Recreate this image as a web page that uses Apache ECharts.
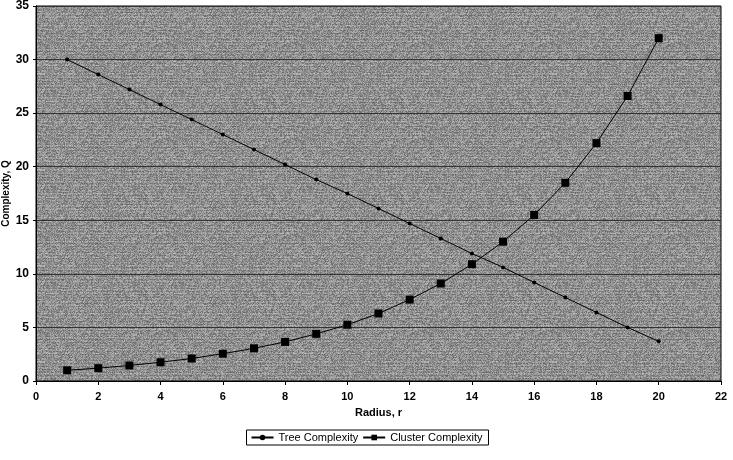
<!DOCTYPE html>
<html>
<head>
<meta charset="utf-8">
<script src="https://cdn.jsdelivr.net/npm/echarts@6/dist/echarts.min.js"></script>
<style>
  html, body { margin: 0; padding: 0; background: #fff; }
  #chart { width: 733px; height: 460px; }
</style>
</head>
<body>
<div id="chart"></div>
<script>
// radius values r = 1..20
var radius = [1, 2, 3, 4, 5, 6, 7, 8, 9, 10, 11, 12, 13, 14, 15, 16, 17, 18, 19, 20];
var treeComplexity = [30, 28.6, 27.2, 25.8, 24.4, 23.0, 21.6, 20.2, 18.8, 17.5,
                      16.1, 14.7, 13.3, 11.9, 10.6, 9.2, 7.8, 6.4, 5.0, 3.7];
var clusterComplexity = [1.0, 1.2, 1.45, 1.75, 2.1, 2.55, 3.05, 3.65, 4.4, 5.25,
                         6.3, 7.6, 9.1, 10.9, 13.0, 15.5, 18.5, 22.2, 26.6, 32.0];

function pairs(xs, ys) {
  return xs.map(function (x, i) { return [x, ys[i]]; });
}

// grainy grey fill for the plot area (scanned look), fixed hash so it's repeatable
function makeTexture() {
  var w = 128, h = 96;
  var c = document.createElement('canvas');
  c.width = w; c.height = h;
  var ctx = c.getContext('2d');
  var img = ctx.createImageData(w, h);
  var seed = 12345;
  function next() {
    seed = (seed * 1103515245 + 12345) & 0x7fffffff;
    return seed / 0x7fffffff;
  }
  for (var y = 0; y < h; y++) {
    var rowShift = (y % 3 === 0) ? -14 : ((y % 4 === 1) ? 12 : 0);
    for (var x = 0; x < w; x++) {
      var v = 146 + rowShift + (next() - 0.5) * 70;
      v = Math.max(60, Math.min(215, v));
      var i = (y * w + x) * 4;
      img.data[i] = img.data[i + 1] = img.data[i + 2] = v;
      img.data[i + 3] = 255;
    }
  }
  ctx.putImageData(img, 0, 0);
  return c;
}

var chart = echarts.init(document.getElementById('chart'));
var font = 'Liberation Sans, Arial, sans-serif';

chart.setOption({
  animation: false,
  textStyle: { fontFamily: font },
  grid: {
    left: 36, right: 12, top: 6, bottom: 79,
    outerBoundsMode: 'none',
    containLabel: false,
    show: true,
    backgroundColor: { image: makeTexture(), repeat: 'repeat' },
    borderColor: '#000',
    borderWidth: 1
  },
  legend: {
    top: 430,
    left: 'center',
    itemWidth: 22,
    itemHeight: 7,
    itemGap: 4,
    borderColor: '#000',
    borderWidth: 1,
    borderRadius: 0,
    padding: [2, 6, 2, 4],
    textStyle: { fontSize: 11, color: '#000', fontFamily: font },
    data: ['Tree Complexity', 'Cluster Complexity']
  },
  xAxis: {
    type: 'value',
    min: 0, max: 22, interval: 2,
    name: 'Radius, r',
    nameLocation: 'middle',
    nameGap: 26,
    nameMoveOverlap: false,
    nameTextStyle: { fontWeight: 'bold', fontSize: 11, color: '#000' },
    axisLine: { lineStyle: { color: '#000' } },
    axisTick: { show: true, length: 4, lineStyle: { color: '#000' } },
    axisLabel: { fontWeight: 'bold', fontSize: 11, color: '#000', margin: 10 },
    splitLine: { show: false }
  },
  yAxis: {
    type: 'value',
    min: 0, max: 35, interval: 5,
    name: 'Complexity, Q',
    nameLocation: 'middle',
    nameGap: 25,
    nameMoveOverlap: false,
    nameTextStyle: { fontWeight: 'bold', fontSize: 10, color: '#000' },
    axisLine: { show: true, lineStyle: { color: '#000' } },
    axisTick: { show: true, length: 3, lineStyle: { color: '#000' } },
    axisLabel: { fontWeight: 'bold', fontSize: 12, color: '#000', margin: 7 },
    splitLine: { show: true, lineStyle: { color: '#333', width: 1 } }
  },
  series: [
    {
      name: 'Tree Complexity',
      type: 'line',
      data: pairs(radius, treeComplexity),
      symbol: 'circle',
      symbolSize: 4,
      itemStyle: { color: '#000' },
      lineStyle: { color: '#000', width: 1 }
    },
    {
      name: 'Cluster Complexity',
      type: 'line',
      data: pairs(radius, clusterComplexity),
      symbol: 'rect',
      symbolSize: 8,
      itemStyle: { color: '#000' },
      lineStyle: { color: '#000', width: 1 }
    }
  ]
});
</script>
</body>
</html>
